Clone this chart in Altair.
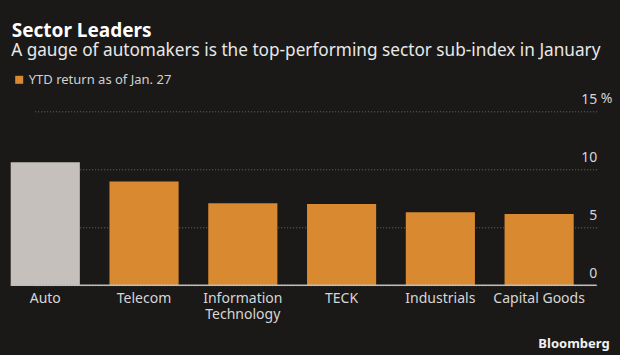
import altair as alt
import pandas as pd

sectors = ["Auto", "Telecom", "Information Technology", "TECK", "Industrials", "Capital Goods"]
values = [10.6, 8.95, 7.08, 7.0, 6.3, 6.14]
series_name = "YTD return as of Jan. 27"
y_ticks = [0, 5, 10, 15]

title_text = "Sector Leaders"
subtitle_text = "A gauge of automakers is the top-performing sector sub-index in January"
source_text = "Bloomberg"

FONT = "Noto Sans"
BG = "#1b1917"
ORANGE = "#d98a30"
GRAY = "#c5c0bb"

W = 586
H = 174

df = pd.DataFrame({"sector": sectors, "ret": values, "series": [series_name] * len(sectors)})

x_enc = alt.X(
    "sector:N",
    sort=sectors,
    scale=alt.Scale(range=[0, 563], paddingInner=0.3, paddingOuter=0),
    axis=alt.Axis(
        title=None, domain=False, ticks=False, labelAngle=0, labelPadding=6,
        labelFontSize=14, labelColor="#d6d6d6", labelFont=FONT, labelLineHeight=16,
        labelExpr="datum.label == 'Information Technology' ? ['Information', 'Technology'] : datum.label",
    ),
)
y_scale = alt.Scale(domain=[0, 15], nice=False, zero=True)

bars = alt.Chart(df).mark_bar().encode(
    x=x_enc,
    y=alt.Y(
        "ret:Q", scale=y_scale,
        axis=alt.Axis(
            title=None, orient="right", values=y_ticks, domain=False, ticks=False, tickSize=0,
            labelPadding=0, labelAlign="right", labelBaseline="alphabetic", labelOffset=-8,
            labelFontSize=14, labelColor="#d6d6d6", labelFont=FONT,
            grid=True, gridDash=[1, 2], gridColor="#707070", gridWidth=1,
        ),
    ),
    color=alt.condition(
        alt.datum.sector == "Auto",
        alt.value(GRAY),
        alt.Color(
            "series:N", scale=alt.Scale(range=[ORANGE]),
            legend=alt.Legend(
                title=None, orient="none", legendX=2, legendY=-38, symbolType="square",
                symbolSize=64, symbolStrokeWidth=0, labelFontSize=13, labelColor="#d0d0d0",
                labelFont=FONT, labelOffset=3, padding=0,
            ),
        ),
    ),
)

baseline = alt.Chart(pd.DataFrame({"v": [0]})).mark_rule(color="#bdbdbd", strokeWidth=1.5).encode(
    y=alt.Y("v:Q", scale=y_scale), x=alt.value(0), x2=alt.value(W)
)

pct = alt.Chart(pd.DataFrame({"v": [15], "t": ["%"]})).mark_text(
    align="left", baseline="alphabetic", dy=-8, fontSize=14, color="#d6d6d6", font=FONT
).encode(y=alt.Y("v:Q", scale=y_scale), x=alt.value(W + 4), text="t:N")

def label(txt, x, y, size, color, weight="normal", align="left"):
    return alt.Chart(pd.DataFrame({"t": [txt]})).mark_text(
        align=align, baseline="alphabetic", fontSize=size, color=color, fontWeight=weight, font=FONT
    ).encode(x=alt.value(x), y=alt.value(y), text="t:N")

title = label(title_text, 1, -74.6, 19, "#ffffff", "bold")
subtitle = label(subtitle_text, 0.5, -55.6, 17.2, "#e8e8e8")
source = label(source_text, 599, 236.7, 13, "#f2f2f2", "bold", align="right")

chart = alt.layer(bars, baseline, pct, title, subtitle, source).properties(
    width=W, height=H, background=BG,
    autosize=alt.AutoSizeParams(type="none"),
    padding={"left": 10.7, "top": 111.3, "right": 23.3, "bottom": 69.7},
).configure_view(stroke=None)

chart.save("out.html", embed_options={"renderer": "svg", "actions": False})
